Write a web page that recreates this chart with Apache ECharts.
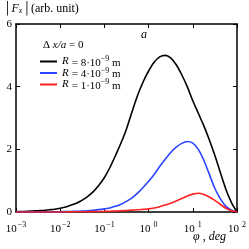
<!DOCTYPE html>
<html><head><meta charset="utf-8">
<script src="https://cdn.jsdelivr.net/npm/echarts@6/dist/echarts.min.js"></script>
<style>html,body{margin:0;padding:0;background:#fff}#c{width:249px;height:249px}</style>
</head><body><div id="c"></div>
<script>
// x values are log10(phi / deg)
const logPhi = [-3,-2.875,-2.75,-2.625,-2.5,-2.375,-2.25,-2.125,-2,-1.875,-1.75,-1.625,-1.5,-1.375,-1.25,-1.125,-1,-0.875,-0.75,-0.625,-0.5,-0.375,-0.25,-0.125,0,0.125,0.25,0.375,0.5,0.625,0.75,0.875,1,1.125,1.25,1.375,1.5,1.625,1.75,1.875,2];
const black = [0.01,0.015,0.02,0.03,0.04,0.05,0.07,0.09,0.12,0.16,0.22,0.29,0.38,0.5,0.65,0.85,1.1,1.42,1.8,2.2,2.65,3.2,3.72,4.15,4.5,4.78,4.95,5.0,4.92,4.7,4.38,4.0,3.55,3.15,2.75,2.3,1.8,1.25,0.72,0.3,0];
const blue  = [0,0,0,0,0,0,0.005,0.007,0.01,0.013,0.017,0.022,0.03,0.04,0.055,0.075,0.1,0.13,0.18,0.25,0.34,0.45,0.6,0.78,0.98,1.2,1.45,1.68,1.9,2.07,2.19,2.25,2.2,2.0,1.65,1.2,0.75,0.42,0.18,0.06,0];
const red   = [0,0,0,0,0,0,0,0,0,0.002,0.004,0.006,0.008,0.01,0.013,0.016,0.02,0.025,0.03,0.04,0.05,0.06,0.07,0.085,0.1,0.13,0.17,0.22,0.28,0.35,0.43,0.51,0.57,0.6,0.56,0.48,0.37,0.24,0.12,0.04,0];
const names = ['R8','R4','R1'];
const colors = ['#000000','#2a45ff','#ff2020'];
const legendText = {R8:'8', R4:'4', R1:'1'};

const pairs = arr => arr.map((v,i)=>[logPhi[i], v]);
const font = 'Liberation Serif';
const chart = echarts.init(document.getElementById('c'));
const axisCommon = () => ({
  axisLine:{onZero:false,lineStyle:{color:'#000',width:1.5}},
  axisTick:{inside:true,length:4,lineStyle:{color:'#000',width:1}},
  splitLine:{show:false}
});
chart.setOption({
  animation:false,
  grid:{left:16,right:8,top:24,bottom:37},
  xAxis:[
    Object.assign({type:'value',min:-3,max:2,interval:1,position:'bottom',
      axisLabel:{margin:6,fontFamily:font,color:'#000',
        formatter:e=>'{b|10}{s|'+(e<0?'\u2212':' ')+Math.abs(e)+'}',
        rich:{b:{fontSize:11,fontFamily:font,color:'#000',padding:[6,0,0,0]},s:{fontSize:8,fontFamily:font,color:'#000',padding:[0,0,4,1]}}}
    },axisCommon()),
    Object.assign({type:'value',min:-3,max:2,interval:1,position:'top',axisLabel:{show:false}},axisCommon())
  ],
  yAxis:[
    Object.assign({type:'value',min:0,max:6,interval:2,position:'left',
      axisLabel:{margin:4,fontFamily:font,fontSize:11,color:'#000'}},axisCommon()),
    Object.assign({type:'value',min:0,max:6,interval:2,position:'right',axisLabel:{show:false}},axisCommon())
  ],
  legend:{orient:'vertical',left:35,top:50,itemWidth:17,itemHeight:2,itemGap:-2,icon:'rect',
    data:names,
    formatter:n=>'{i|R} {t|= '+legendText[n]+'\u00b710}{s|\u22129}{t| m}',
    textStyle:{fontFamily:font,color:'#000',
      rich:{i:{fontStyle:'italic',fontSize:11,fontFamily:font},t:{fontSize:11,fontFamily:font,padding:[3,0,0,0]},s:{fontSize:8,fontFamily:font,padding:[0,0,5,0]}}}
  },
  graphic:[
    {type:'text',left:43,top:40,style:{rich:{d:{fontSize:11,fontFamily:font},i:{fontSize:11,fontFamily:font,fontStyle:'italic'}},text:'{d|\u0394 }{i|x/a}{d| = 0}'}},
    {type:'text',left:141,top:29,style:{text:'a',font:'italic 12px "Liberation Serif"',fill:'#000'}},
    {type:'text',left:3,top:3,style:{rich:{d:{fontSize:12,fontFamily:font},i:{fontSize:12,fontFamily:font,fontStyle:'italic'},s:{fontSize:8,fontFamily:font,fontStyle:'italic',padding:[4,0,0,0]}},text:'{d|\u2502}{i|F}{s|x}{d|\u2502(arb. unit)}'}},
    {type:'text',left:193,top:231,style:{text:'\u03c6 , deg',font:'italic 12px "Liberation Serif"',fill:'#000'}}
  ],
  series:[black,blue,red].map((arr,k)=>({
    name:names[k],type:'line',data:pairs(arr),smooth:0.3,showSymbol:false,
    lineStyle:{color:colors[k],width:1.6},itemStyle:{color:colors[k]}
  }))
});
</script></body></html>
